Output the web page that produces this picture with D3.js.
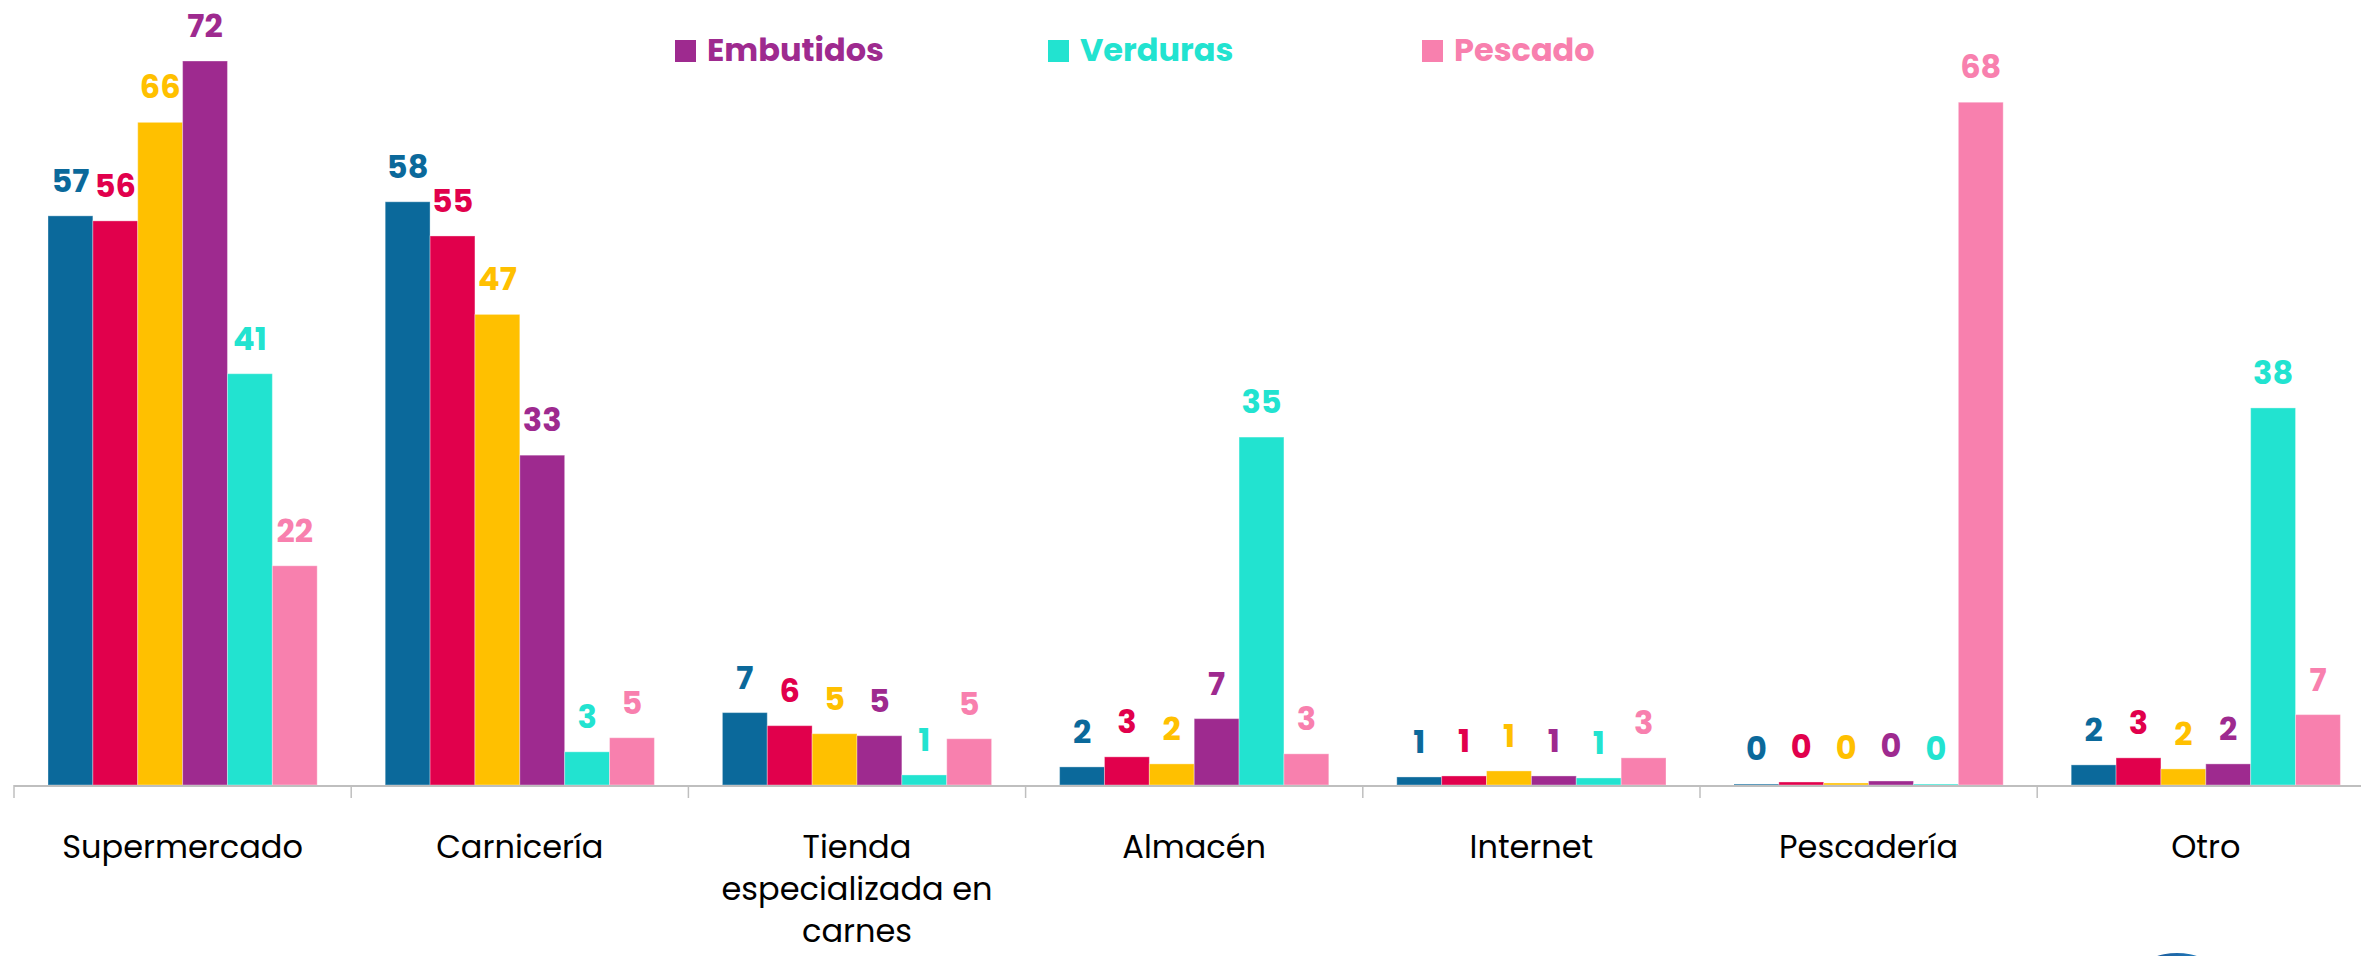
<!DOCTYPE html>
<html>
<head>
<meta charset="utf-8">
<script src="https://cdn.jsdelivr.net/npm/d3@7"></script>
<style>
  html, body { margin: 0; padding: 0; background: #fff; }
  svg { display: block; }
</style>
</head>
<body>
<div id="chart"></div>
<script>
// categories along x
var categories = ["Supermercado", "Carnicería", "Tienda especializada en carnes", "Almacén", "Internet", "Pescadería", "Otro"]
var catLines = {"Tienda especializada en carnes": ["Tienda", "especializada en", "carnes"]}

// series (only the last three show up in the legend)
var series = ["Carne de vacuno", "Cerdo", "Pollo", "Embutidos", "Verduras", "Pescado"]
var seriesColors = ["#0b699b", "#e1004c", "#ffc000", "#9e2a8f", "#22e3d0", "#f880ae"]
var legendSeries = ["Embutidos", "Verduras", "Pescado"]

// values, one array per series (same order as categories)
var vacuno    = [56.6, 58.0, 7.2, 1.8, 0.8, 0.1, 2.0]
var cerdo     = [56.1, 54.6, 5.9, 2.8, 0.9, 0.3, 2.7]
var pollo     = [65.9, 46.8, 5.1, 2.1, 1.4, 0.2, 1.6]
var embutidos = [72.0, 32.8, 4.9, 6.6, 0.9, 0.4, 2.1]
var verduras  = [40.9, 3.3, 1.0, 34.6, 0.7, 0.1, 37.5]
var pescado   = [21.8, 4.7, 4.6, 3.1, 2.7, 67.9, 7.0]

var values = [vacuno, cerdo, pollo, embutidos, verduras, pescado]

const W = 2361, H = 956
const baseY = 785, band = 337.2, left = 14

var svg = d3.select("#chart").append("svg")
    .attr("width", W)
    .attr("height", H)

var x0 = d3.scaleBand()
    .domain(categories)
    .range([left, left + band * categories.length])

var x1 = d3.scaleBand()
    .domain(series)
    .range([34, band - 34])

var y = d3.scaleLinear()
    .domain([0, 72])
    .range([baseY, 61])

var color = d3.scaleOrdinal().domain(series).range(seriesColors)

// flatten into rows for the bars
var rows = []
categories.forEach(function(c, ci){
    series.forEach(function(s, si){
        rows.push({cat: c, name: s, value: values[si][ci]})
    })
})

var fontNum = "Poppins, 'Noto Sans', 'DejaVu Sans', sans-serif"

var g = svg.selectAll("g.cat")
    .data(categories)
    .enter()
    .append("g")
    .attr("class", "cat")
    .attr("transform", d => "translate(" + x0(d) + ",0)")

g.selectAll("rect")
    .data(c => rows.filter(r => r.cat == c))
    .enter()
    .append("rect")
    .attr("x", d => x1(d.name))
    .attr("y", d => y(d.value))
    .attr("width", x1.bandwidth())
    .attr("height", d => baseY - y(d.value))
    .attr("fill", d => color(d.name))
    .attr("stroke", "#ffffff")
    .attr("stroke-opacity", 0.35)
    .attr("stroke-width", 1)

g.selectAll("text.lbl")
    .data(c => rows.filter(r => r.cat == c))
    .enter()
    .append("text")
    .attr("class", "lbl")
    .attr("x", d => x1(d.name) + x1.bandwidth() / 2)
    .attr("y", d => y(d.value) - 24)
    .attr("text-anchor", "middle")
    .style("font-family", fontNum)
    .style("font-weight", "bold")
    .style("font-size", "32px")
    .style("fill", d => color(d.name))
    .text(d => Math.round(d.value))

// x axis: baseline plus separators at band edges
svg.append("line")
    .attr("x1", left).attr("x2", W)
    .attr("y1", baseY + 1).attr("y2", baseY + 1)
    .attr("stroke", "#bfbfbf")
    .attr("stroke-width", 2)

var edges = categories.map(c => x0(c))
svg.selectAll("line.sep")
    .data(edges)
    .enter()
    .append("line")
    .attr("class", "sep")
    .attr("x1", d => d).attr("x2", d => d)
    .attr("y1", baseY).attr("y2", baseY + 13)
    .attr("stroke", "#bfbfbf")
    .attr("stroke-width", 1.5)

var catText = svg.selectAll("text.cat")
    .data(categories)
    .enter()
    .append("text")
    .attr("class", "cat")
    .attr("text-anchor", "middle")
    .attr("transform", d => "translate(" + (x0(d) + band / 2) + ",858)")
    .style("font-family", fontNum)
    .style("font-size", "32px")
    .style("fill", "#000")

catText.selectAll("tspan")
    .data(d => catLines[d] || [d])
    .enter()
    .append("tspan")
    .attr("x", 0)
    .attr("y", (d, i) => i * 42)
    .text(d => d)

// legend
var legendX = [675, 1048, 1422]
var leg = svg.selectAll("g.leg")
    .data(legendSeries)
    .enter()
    .append("g")
    .attr("class", "leg")
    .attr("transform", (d, i) => "translate(" + legendX[i] + ",40)")

leg.append("rect")
    .attr("width", 21)
    .attr("height", 22)
    .attr("fill", d => color(d))

leg.append("text")
    .attr("x", 32)
    .attr("y", 21)
    .style("font-family", fontNum)
    .style("font-weight", "bold")
    .style("font-size", "32px")
    .style("fill", d => color(d))
    .text(d => d)

// logo peeking in at the bottom right
var grad = svg.append("defs").append("linearGradient")
    .attr("id", "logoGrad")
    .attr("x1", "0%").attr("x2", "100%")
grad.append("stop").attr("offset", "0%").attr("stop-color", "#1b3f7c")
grad.append("stop").attr("offset", "55%").attr("stop-color", "#1f6fb0")
grad.append("stop").attr("offset", "100%").attr("stop-color", "#35b4e8")

svg.append("circle")
    .attr("cx", 2177)
    .attr("cy", 1020)
    .attr("r", 67)
    .attr("fill", "url(#logoGrad)")
</script>
</body>
</html>
